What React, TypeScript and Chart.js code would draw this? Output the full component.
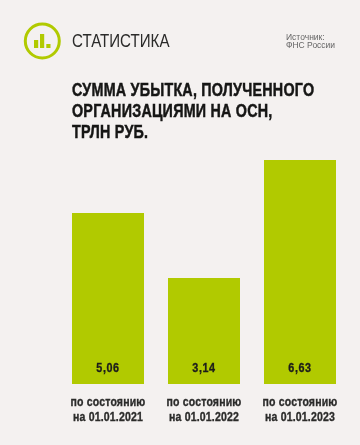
import React, { useEffect, useRef } from "react";
import { Chart, registerables } from "chart.js";

Chart.register(...registerables);

const categories = [
  ["по состоянию", "на 01.01.2021"],
  ["по состоянию", "на 01.01.2022"],
  ["по состоянию", "на 01.01.2023"],
];
const values = [5.06, 3.14, 6.63];
const valueLabels = ["5,06", "3,14", "6,63"];
const titleLines = ["СУММА УБЫТКА, ПОЛУЧЕННОГО", "ОРГАНИЗАЦИЯМИ НА ОСН,", "ТРЛН РУБ."];
const sourceLines = ["Источник:", "ФНС России"];
const heading = "СТАТИСТИКА";

const GREEN = "#b1ca00";
const BG = "#f4f1f0";
const SANS = '"Liberation Sans", sans-serif';

const drawNarrow = (ctx: any, text: string, x: number, y: number, sx: number) => {
  ctx.save();
  ctx.translate(x, y);
  ctx.scale(sx, 1);
  ctx.fillText(text, 0, 0);
  ctx.strokeText(text, 0, 0);
  ctx.restore();
};

const narrowLabels = {
  id: "narrowLabels",
  afterDatasetsDraw(chart: any) {
    const { ctx } = chart;
    const meta = chart.getDatasetMeta(0);
    const bottom = chart.scales.y.bottom;
    ctx.save();
    ctx.textAlign = "center";
    ctx.textBaseline = "middle";
    ctx.lineWidth = 0.35;
    ctx.font = `bold 13.5px ${SANS}`;
    ctx.letterSpacing = "0.7px";
    ctx.fillStyle = ctx.strokeStyle = "#1d1d1b";
    meta.data.forEach((bar: any, i: number) => {
      drawNarrow(ctx, valueLabels[i], bar.x, bottom - 16, 0.8);
    });
    ctx.font = `bold 13px ${SANS}`;
    ctx.letterSpacing = "0.2px";
    ctx.fillStyle = ctx.strokeStyle = "#2b2b2a";
    meta.data.forEach((bar: any, i: number) => {
      const lines = chart.data.labels[i];
      lines.forEach((line: string, j: number) => {
        drawNarrow(ctx, line, bar.x, bottom + 18.5 + j * 14.6, 0.81);
      });
    });
    ctx.restore();
  },
};

export default function App() {
  const ref = useRef<HTMLCanvasElement>(null);
  useEffect(() => {
    document.body.style.margin = "0";
    document.body.style.background = BG;
    const chart = new Chart(ref.current!, {
      type: "bar",
      data: {
        labels: categories,
        datasets: [{ data: values, backgroundColor: GREEN, barPercentage: 0.75, categoryPercentage: 1 }],
      },
      options: {
        animation: false,
        responsive: false,
        layout: { padding: { left: 60, right: 12, top: 160, bottom: 61 } },
        plugins: { legend: { display: false }, tooltip: { enabled: false } },
        scales: {
          y: { display: false, min: 0, max: 6.63 },
          x: { display: false },
        },
      },
      plugins: [narrowLabels],
    } as any);
    return () => chart.destroy();
  }, []);

  return (
    <div style={{ position: "relative", width: 360, height: 445, background: BG, overflow: "hidden" }}>
      <canvas ref={ref} width={360} height={445} style={{ position: "absolute", left: 0, top: 0 }} />
      <svg width={40} height={40} style={{ position: "absolute", left: 22, top: 21 }} viewBox="0 0 40 40">
        <circle cx={20.3} cy={20} r={17} fill="none" stroke={GREEN} strokeWidth={3} />
        <rect x={12} y={19} width={4.2} height={8} fill={GREEN} />
        <rect x={18} y={13} width={4.2} height={14} fill={GREEN} />
        <rect x={24.3} y={23} width={4.2} height={4} fill={GREEN} />
      </svg>
      <div style={{ position: "absolute", left: 72, top: 29, font: `19px/24px ${SANS}`, color: "#2b2b2a", transform: "scaleX(0.795)", transformOrigin: "left top", whiteSpace: "nowrap" }}>{heading}</div>
      <div style={{ position: "absolute", left: 286, top: 34, font: `8.5px/7.6px ${SANS}`, color: "#666", whiteSpace: "nowrap" }}>
        {sourceLines.map((l) => <div key={l}>{l}</div>)}
      </div>
      <div style={{ position: "absolute", left: 72, top: 79, font: `bold 18.5px/21px ${SANS}`, color: "#161615", whiteSpace: "nowrap", letterSpacing: 0.3, transform: "scaleX(0.773)", transformOrigin: "left top", WebkitTextStroke: "0.5px #161615" }}>
        {titleLines.map((l) => <div key={l}>{l}</div>)}
      </div>
    </div>
  );
}
